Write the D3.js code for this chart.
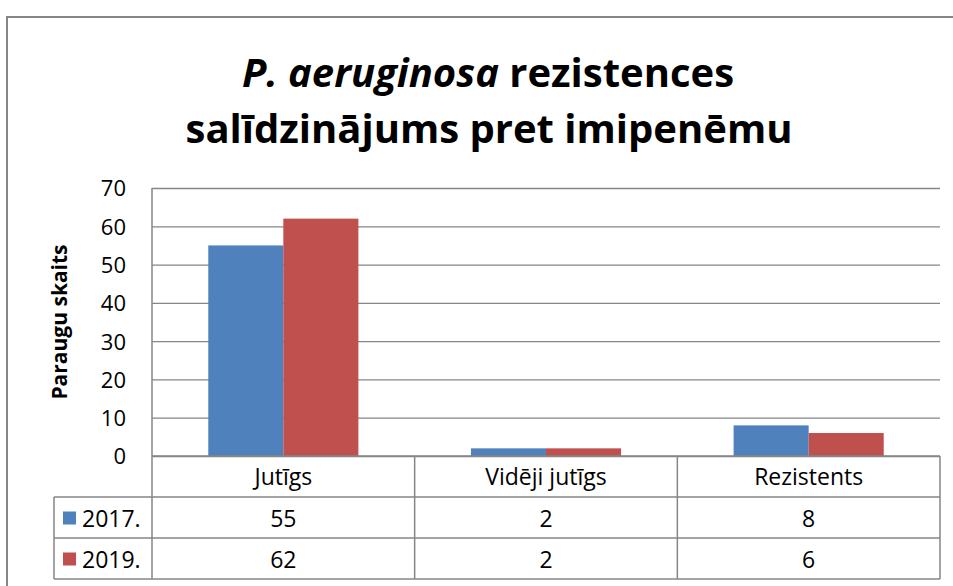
<!DOCTYPE html>
<html>
<head>
<meta charset="utf-8">
<script src="https://cdn.jsdelivr.net/npm/d3@7"></script>
<style>
    body { margin: 0; background: #fff; }
    svg { display: block; font-family: "Open Sans", sans-serif; }
</style>
</head>
<body>
<div id="chart"></div>
<script>
"use strict"

// Data
const categories = ["Jutīgs", "Vidēji jutīgs", "Rezistents"];
const seriesNames = ["2017.", "2019."];
const values2017 = [55, 2, 8];
const values2019 = [62, 2, 6];
const yTicks = [0, 10, 20, 30, 40, 50, 60, 70];
const colors = ["#4F81BD", "#C0504D"];

const figWidth = 953;
const figHeight = 586;
const plot = {left: 152, right: 940, top: 188, bottom: 456};
const rowH = 41;
const legendLeft = 54;
const gridColor = "#868686";
const tableFont = 23;

const series = seriesNames.map((name, i) => ({
    name: name,
    color: colors[i],
    values: i == 0 ? values2017 : values2019
}));

let svg = d3.select("#chart").append("svg")
    .attr("width", figWidth)
    .attr("height", figHeight);

// chart border (only top and left visible in the picture)
svg.append("path")
    .attr("d", `M7,${figHeight} V17 H${figWidth}`)
    .attr("fill", "none")
    .attr("stroke", gridColor)
    .attr("stroke-width", 2);

// Title
let title = svg.append("text")
    .attr("text-anchor", "middle")
    .attr("font-size", 40)
    .attr("font-weight", "bold")
    .attr("fill", "#000");
let l1 = title.append("tspan").attr("x", 488).attr("y", 87);
l1.append("tspan").attr("font-style", "italic").text("P. aeruginosa");
l1.append("tspan").text(" rezistences");
title.append("tspan").attr("x", 489).attr("y", 143).text("salīdzinājums pret imipenēmu");

// Scales
let xScale = d3.scaleBand()
    .domain(categories)
    .range([plot.left, plot.right]);
let inner = d3.scaleBand()
    .domain(seriesNames)
    .range([0, xScale.bandwidth()])
    .paddingOuter(0.75)
    .paddingInner(0);
let yScale = d3.scaleLinear()
    .domain([0, 70])
    .range([plot.bottom, plot.top]);

// Gridlines
svg.append("g")
    .attr("transform", `translate(${plot.left},0)`)
    .call(d3.axisLeft(yScale).tickValues(yTicks).tickSize(-(plot.right - plot.left)).tickFormat(""))
    .call(g => g.select(".domain").remove())
    .call(g => g.selectAll("line").attr("stroke", gridColor).attr("stroke-width", 1.3));

// Y axis labels
svg.append("g")
    .attr("transform", `translate(${plot.left},0)`)
    .call(d3.axisLeft(yScale).tickValues(yTicks).tickSize(0).tickPadding(26))
    .call(g => g.select(".domain").remove())
    .call(g => g.selectAll("text")
        .attr("font-family", "Open Sans, sans-serif")
        .attr("font-size", 22)
        .attr("dy", "0.36em")
        .attr("fill", "#000"));

svg.append("text")
    .attr("transform", `translate(67, ${(plot.top + plot.bottom) / 2}) rotate(-90)`)
    .attr("text-anchor", "middle")
    .attr("font-size", 21)
    .attr("font-weight", "bold")
    .text("Paraugu skaits");

// Bars
series.forEach(s => {
    svg.append("g")
        .selectAll("rect")
        .data(s.values)
        .enter().append("rect")
            .attr("x", (d, i) => xScale(categories[i]) + inner(s.name))
            .attr("y", d => yScale(d))
            .attr("width", inner.bandwidth())
            .attr("height", d => yScale(0) - yScale(d))
            .attr("fill", s.color);
});

// Left axis line
svg.append("line")
    .attr("x1", plot.left).attr("x2", plot.left)
    .attr("y1", plot.top).attr("y2", plot.bottom + rowH * 3)
    .attr("stroke", gridColor).attr("stroke-width", 1.5);

// Data table
let table = svg.append("g").attr("class", "table");
const tBottom = plot.bottom + rowH * 3;

// horizontal lines
table.append("line")
    .attr("x1", plot.left).attr("x2", plot.right)
    .attr("y1", plot.bottom).attr("y2", plot.bottom);
[1, 2, 3].forEach(r => {
    table.append("line")
        .attr("x1", legendLeft).attr("x2", plot.right)
        .attr("y1", plot.bottom + rowH * r).attr("y2", plot.bottom + rowH * r);
});
// vertical lines
categories.forEach(c => {
    table.append("line")
        .attr("x1", xScale(c) + xScale.bandwidth()).attr("x2", xScale(c) + xScale.bandwidth())
        .attr("y1", plot.bottom).attr("y2", tBottom);
});
table.append("line")
    .attr("x1", legendLeft).attr("x2", legendLeft)
    .attr("y1", plot.bottom + rowH).attr("y2", tBottom);
table.selectAll("line").attr("stroke", gridColor).attr("stroke-width", 1.5);

// header text
table.selectAll(".cat")
    .data(categories)
    .enter().append("text")
        .attr("class", "cat")
        .attr("x", d => xScale(d) + xScale.bandwidth() / 2)
        .attr("y", plot.bottom + rowH / 2 + 8)
        .attr("text-anchor", "middle")
        .attr("font-size", tableFont)
        .text(d => d);

series.forEach((s, r) => {
    const yMid = plot.bottom + rowH * (r + 1) + rowH / 2;
    table.append("rect")
        .attr("x", 63).attr("y", yMid - 6)
        .attr("width", 13).attr("height", 13)
        .attr("fill", s.color);
    table.append("text")
        .attr("x", 82).attr("y", yMid + 9)
        .attr("font-size", tableFont)
        .text(s.name);
    table.selectAll(".v" + r)
        .data(s.values)
        .enter().append("text")
            .attr("x", (d, i) => xScale(categories[i]) + xScale.bandwidth() / 2)
            .attr("y", yMid + 9)
            .attr("text-anchor", "middle")
            .attr("font-size", tableFont)
            .text(d => d);
});
</script>
</body>
</html>
